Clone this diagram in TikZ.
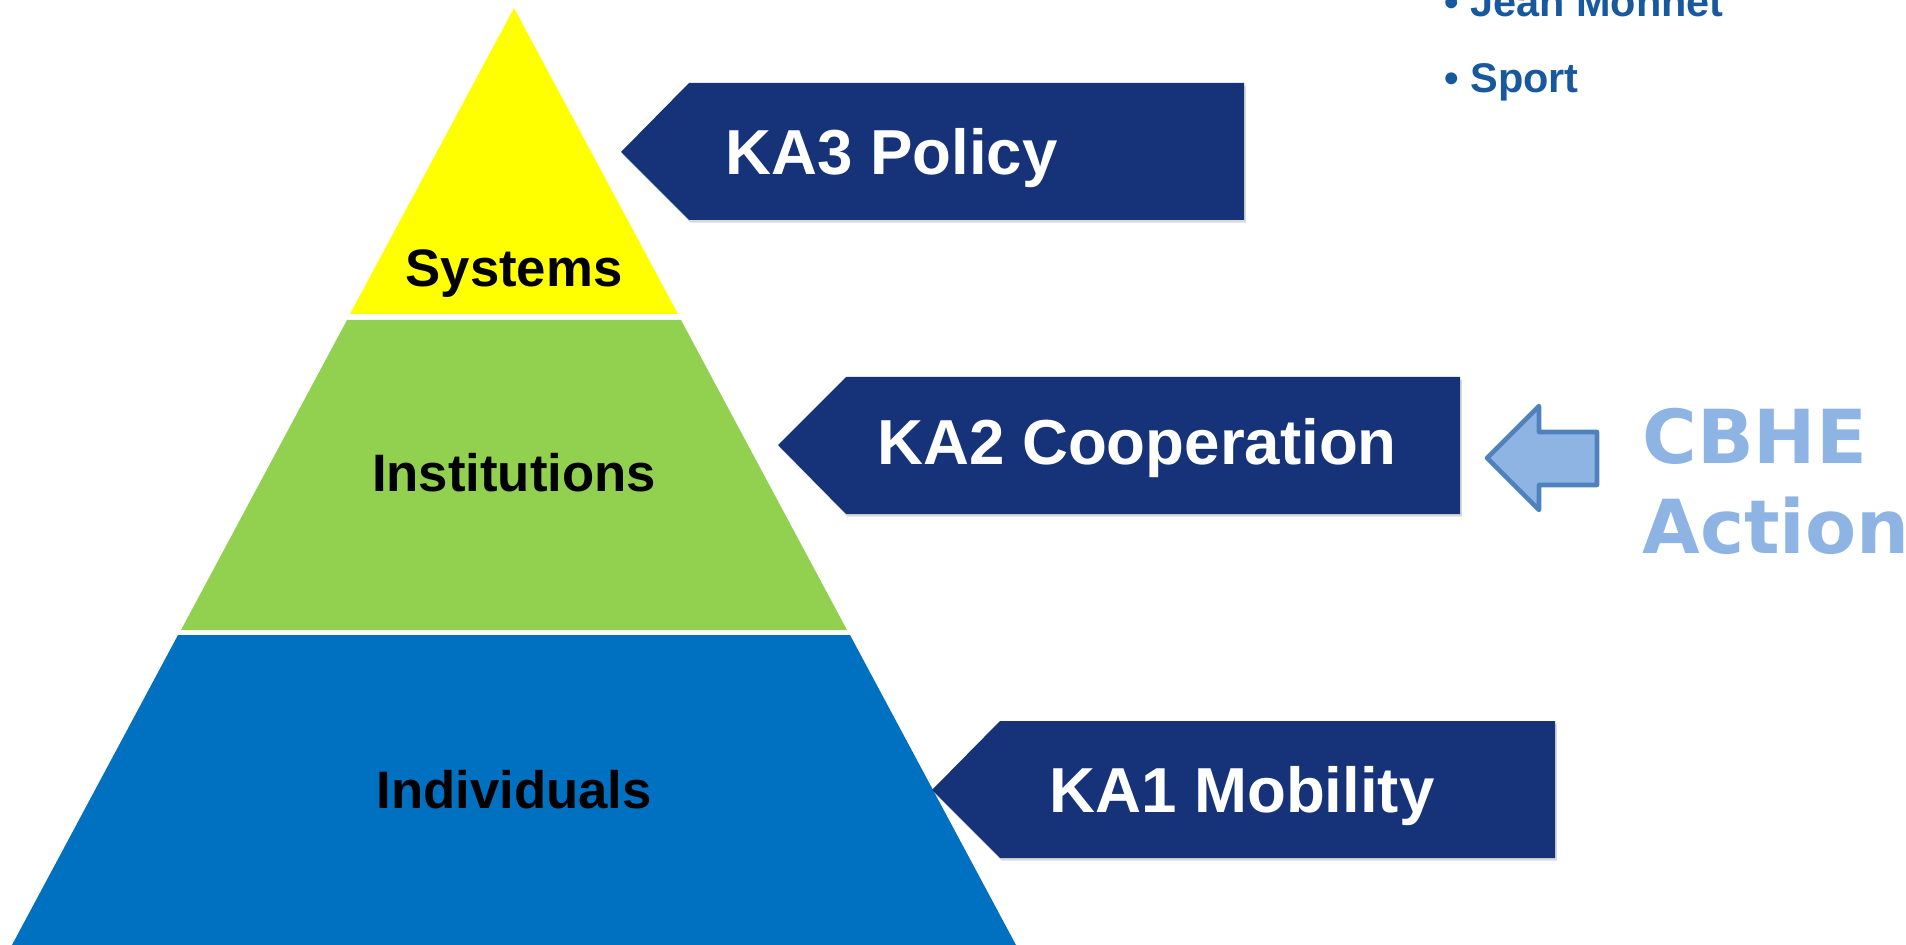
\documentclass[tikz,border=0pt]{standalone}
\usepackage{fontspec}
\setmainfont{Liberation Sans}
\newfontfamily\cbhefont{DejaVu Sans}
\usetikzlibrary{shadows}
\definecolor{kablue}{RGB}{22,51,122}
\definecolor{sysyellow}{RGB}{255,255,0}
\definecolor{instgreen}{RGB}{146,208,80}
\definecolor{indblue}{RGB}{0,112,192}
\definecolor{listblue}{RGB}{24,88,156}
\definecolor{cbhelight}{RGB}{142,180,227}
\definecolor{cbheedge}{RGB}{79,129,189}
\begin{document}
\begin{tikzpicture}[x=0.02cm,y=-0.02cm,
    layer/.style={font=\fontsize{30}{36}\selectfont\bfseries, anchor=base, inner sep=0pt},
    kabox/.style={fill=kablue, drop shadow={opacity=0.3, shadow xshift=1pt, shadow yshift=-1.5pt}},
    katext/.style={text=white, font=\fontsize{36.2}{43}\selectfont\bfseries, anchor=base west, inner sep=0pt},
    listitem/.style={text=listblue, font=\fontsize{23.6}{28}\selectfont\bfseries, anchor=base west, inner sep=0pt},
    cbhetext/.style={text=cbhelight, font=\cbhefont\fontsize{42.4}{50}\selectfont\bfseries, anchor=base west, inner sep=0pt}]
\useasboundingbox (0,0) rectangle (1906,945);
% pyramid
\fill[sysyellow] (514,8) -- (678,314) -- (350,314) -- cycle;
\fill[instgreen] (347,320) -- (681,320) -- (847,630) -- (181,630) -- cycle;
\fill[indblue] (178,635) -- (850,635) -- (1016,945) -- (12,945) -- cycle;
\node[layer] (sys) at (514,287) {Systems};
\node[layer] (inst) at (514,492) {Institutions};
\node[layer] (indiv) at (514,808) {Individuals};

% key actions
\fill[kabox] (621,152) -- (689,83) -- (1244,83) -- (1244,220) -- (689,220) -- cycle;
\fill[kabox] (778,445) -- (846,377) -- (1460,377) -- (1460,514) -- (846,514) -- cycle;
\fill[kabox] (932,790) -- (1000,721) -- (1555,721) -- (1555,858) -- (1000,858) -- cycle;
\node[katext] (ka3) at (725,175) {KA3 Policy};
\node[katext] (ka2) at (877,465) {KA2 Cooperation};
\node[katext] (ka1) at (1049,812) {KA1 Mobility};

% other actions
\node[listitem] (jm) at (1444,17) {• Jean Monnet};
\node[listitem] (sport) at (1444,93) {• Sport};

% CBHE
\draw[cbheedge, fill=cbhelight, line width=2.6pt, line join=round]
  (1487,458) -- (1539,406) -- (1539,432) -- (1597,432) -- (1597,485) -- (1539,485) -- (1539,510) -- cycle;
\node[cbhetext] (cbhe) at (1642,463) {CBHE};
\node[cbhetext] (action) at (1642,553) {Action};
\end{tikzpicture}
\end{document}
